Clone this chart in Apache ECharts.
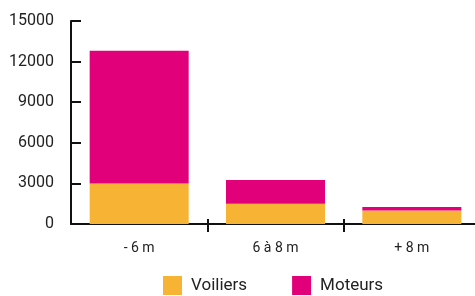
<!DOCTYPE html>
<html>
<head>
<meta charset="utf-8">
<script src="https://cdn.jsdelivr.net/npm/echarts@6/dist/echarts.min.js"></script>
<style>
  html, body { margin: 0; padding: 0; background: #fff; }
  #chart { width: 475px; height: 296px; }
</style>
</head>
<body>
<div id="chart"></div>
<script>
const categories = ['- 6 m', '6 à 8 m', '+ 8 m'];
const voiliers = [3000, 1500, 1000];
const moteurs = [9800, 1750, 250];

const font = 'Roboto, "DejaVu Sans", sans-serif';
const axisColor = '#111';
// no tick at the corner with the y axis
const skipFirst = (i) => i !== 0;

const chart = echarts.init(document.getElementById('chart'));
chart.setOption({
  animation: false,
  grid: { left: 71, right: -5, top: 21, bottom: 72, containLabel: false, outerBoundsMode: 'none' },
  legend: {
    left: 158,
    top: 271,
    itemWidth: 19,
    itemHeight: 19,
    itemGap: 45,
    icon: 'rect',
    textStyle: { fontFamily: font, fontSize: 17, color: '#222', padding: [0, 0, 0, 4] },
    data: ['Voiliers', 'Moteurs']
  },
  xAxis: [
    {
      type: 'category',
      data: categories,
      axisLine: { show: true, lineStyle: { color: axisColor, width: 2 } },
      axisTick: { show: true, interval: skipFirst, inside: false, length: 8, lineStyle: { color: axisColor, width: 2 } },
      axisLabel: { fontFamily: font, fontSize: 14, color: '#222', margin: 17 }
    },
    {
      type: 'category',
      data: categories,
      position: 'bottom',
      axisLine: { show: false },
      axisTick: { show: true, interval: skipFirst, inside: true, length: 5, lineStyle: { color: axisColor, width: 2 } },
      axisLabel: { show: false }
    }
  ],
  yAxis: {
    type: 'value',
    min: 0,
    max: 15000,
    interval: 3000,
    splitLine: { show: false },
    axisLine: { show: true, lineStyle: { color: axisColor, width: 2 } },
    axisTick: { show: true, inside: true, length: 10, lineStyle: { color: axisColor, width: 2 } },
    axisLabel: { fontFamily: font, fontSize: 16, color: '#222', margin: 17, formatter: v => String(v) }
  },
  series: [
    {
      name: 'Voiliers',
      type: 'bar',
      stack: 'total',
      data: voiliers,
      barWidth: 99,
      itemStyle: { color: '#F7B334' }
    },
    {
      name: 'Moteurs',
      type: 'bar',
      stack: 'total',
      data: moteurs,
      barWidth: 99,
      itemStyle: { color: '#E2007A' }
    }
  ]
});
</script>
</body>
</html>
